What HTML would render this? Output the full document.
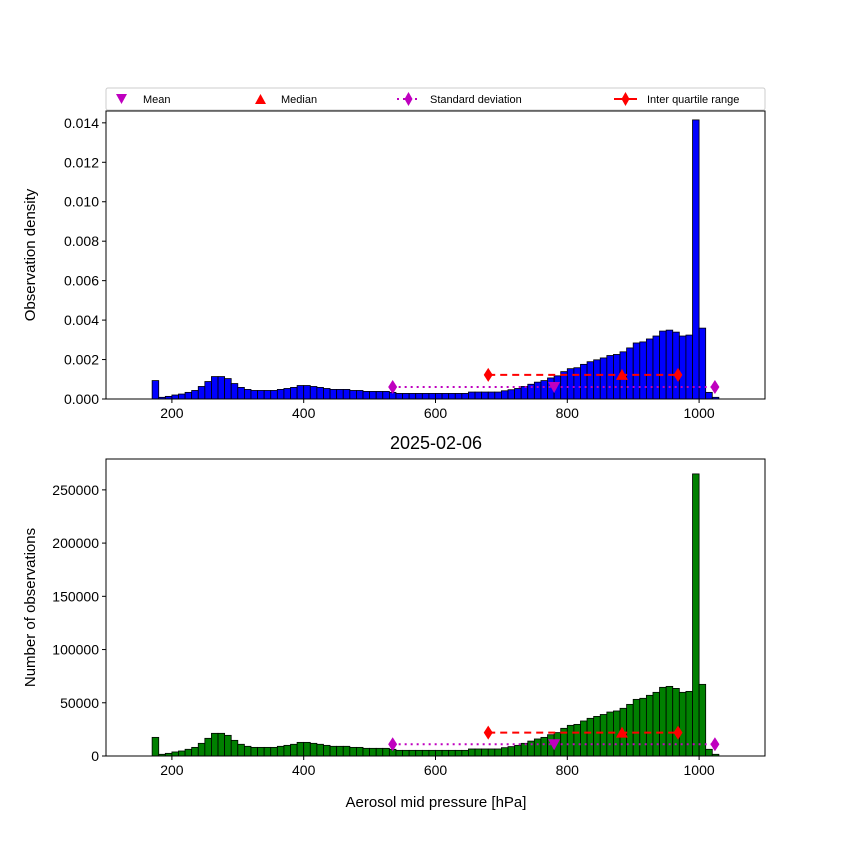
<!DOCTYPE html>
<html><head><meta charset="utf-8"><style>
body{margin:0;background:#fff;}
svg{display:block;font-family:"Liberation Sans","DejaVu Sans",sans-serif;}
</style></head><body>
<svg id="c" width="850" height="850" xmlns="http://www.w3.org/2000/svg"></svg>
<script>
const binStarts = [];
for (let b = 170; b <= 1020; b += 10) binStarts.push(b);
const counts = [17.5,1.6,2.5,3.8,4.7,6.3,8.1,11.9,16.6,21.3,21.3,19.4,14.7,11,9.1,8.1,8.1,8.1,8.1,9.1,10,11,12.8,12.8,11.9,11,10,9.1,9.1,9.1,8.1,8.1,7.2,7.2,7.2,7.2,6.3,5.3,5.3,5.3,5.3,5.3,5.3,
5.3,5.3,5.3,5.3,5.3,6.6,6.6,6.6,6.6,
6.6,7.8,8.8,10,11.9,14,16,17.5,20,22,26,28.8,29.7,32.9,35.4,37.2,39,41.3,42.3,44.8,48.5,53.2,54.2,57,59.8,64.5,65.4,63.5,59.8,60.7,265,67.3,6.3,1.6].map(v=>v*1000);
const statMean = 780, statMedian = 883, statStd = [535, 1024], statIqr = [680, 968];
const xTicks = [200,400,600,800,1000];
const topTicks = [0,0.002,0.004,0.006,0.008,0.010,0.012,0.014];
const botTicks = [0,50000,100000,150000,200000,250000];

const NS="http://www.w3.org/2000/svg";
const svg=document.getElementById('c');
function el(t,a,p){const e=document.createElementNS(NS,t);for(const k in a)e.setAttribute(k,a[k]);(p||svg).appendChild(e);return e;}
const total=counts.reduce((a,b)=>a+b,0);
const dens=counts.map(c=>c/(total*10));
const X0=106,X1=765;
const xs=v=>X0+(v-100)/1000*(X1-X0);

function panel(name,top,bot,vals,ymax,ticks,fmt,color,ylabel){
  const g=el('g',{});
  
  
  const ys=v=>bot-v/ymax*(bot-top);
  vals.forEach((v,i)=>{
    const r=el('rect',{x:xs(binStarts[i]),y:ys(v),width:xs(binStarts[i]+10)-xs(binStarts[i]),height:bot-ys(v),fill:color,stroke:'#000','stroke-width':0.8},g);
    
    
  });
  const hi=ymax*(ymax>1?22000/279000:0.00122/0.0146), lo=hi/2;
  // std dotted
  const sl=el('line',{x1:xs(statStd[0]),x2:xs(statStd[1]),y1:ys(lo),y2:ys(lo),stroke:'#bf00bf','stroke-width':2,'stroke-dasharray':'2,4'},g);
  
  const il=el('line',{x1:xs(statIqr[0]),x2:xs(statIqr[1]),y1:ys(hi),y2:ys(hi),stroke:'#f00','stroke-width':2,'stroke-dasharray':'7,5'},g);
  
  const dia=(x,y,c,n)=>{const d=el('path',{d:`M${x} ${y-7}L${x+4.5} ${y}L${x} ${y+7}L${x-4.5} ${y}Z`,fill:c},g);};
  statStd.forEach((s,i)=>dia(xs(s),ys(lo),'#bf00bf','std-marker-'+i));
  statIqr.forEach((s,i)=>dia(xs(s),ys(hi),'#f00','iqr-marker-'+i));
  let mx=xs(statMean),my=ys(lo);
  const m=el('path',{d:`M${mx-6} ${my-5}L${mx+6} ${my-5}L${mx} ${my+6}Z`,fill:'#bf00bf'},g);
  
  mx=xs(statMedian);my=ys(hi);
  const md=el('path',{d:`M${mx-6} ${my+5}L${mx+6} ${my+5}L${mx} ${my-6}Z`,fill:'#f00'},g);
  
  const fr=el('rect',{x:X0,y:top,width:X1-X0,height:bot-top,fill:'none',stroke:'#000','stroke-width':1},g);
  
  xTicks.forEach(t=>{
    el('line',{x1:xs(t),x2:xs(t),y1:bot,y2:bot+4,stroke:'#000'},g);
    const tx=el('text',{x:xs(t),y:bot+19,'font-size':14,'text-anchor':'middle'},g);tx.textContent=t;
    
  });
  ticks.forEach(t=>{
    el('line',{x1:X0-4,x2:X0,y1:ys(t),y2:ys(t),stroke:'#000'},g);
    const tx=el('text',{x:X0-7,y:ys(t)+5,'font-size':14,'text-anchor':'end'},g);tx.textContent=fmt(t);
    
  });
  const yl=el('text',{x:0,y:0,'font-size':15,'text-anchor':'middle',transform:`translate(35,${(top+bot)/2}) rotate(-90)`},g);
  yl.textContent=ylabel;
}
panel('density-panel',111,399,dens,0.0146,topTicks,t=>t.toFixed(3),'#0000ff','Observation density');
panel('count-panel',459,756,counts,279000,botTicks,t=>String(t),'#008000','Number of observations');
</script>
<svg x="0" y="0" width="0" height="0"></svg>
<script>
(function(){
const NS="http://www.w3.org/2000/svg",svg=document.getElementById('c');
function el(t,a,p){const e=document.createElementNS(NS,t);for(const k in a)e.setAttribute(k,a[k]);(p||svg).appendChild(e);return e;}
const t=el('text',{x:436,y:449,'font-size':18,'text-anchor':'middle'});t.textContent='2025-02-06';


const xl=el('text',{x:436,y:807,'font-size':15,'text-anchor':'middle'});xl.textContent='Aerosol mid pressure [hPa]';


const lg=el('g',{});


el('rect',{x:106,y:88,width:659,height:22,fill:'#fff',stroke:'#ccc',rx:2},lg);
el('path',{d:'M116 94L127 94L121.5 104Z',fill:'#bf00bf'},lg);
el('path',{d:'M255 104L266 104L260.5 94Z',fill:'#f00'},lg);
el('line',{x1:397,x2:420,y1:99,y2:99,stroke:'#bf00bf','stroke-width':2,'stroke-dasharray':'2,4'},lg);
el('path',{d:'M408.5 92L412.5 99L408.5 106L404.5 99Z',fill:'#bf00bf'},lg);
el('line',{x1:614,x2:637,y1:99,y2:99,stroke:'#f00','stroke-width':2},lg);
el('path',{d:'M625.5 92L629.5 99L625.5 106L621.5 99Z',fill:'#f00'},lg);
[['Mean',143],['Median',281],['Standard deviation',430],['Inter quartile range',647]].forEach(([s,x])=>{
  const e=el('text',{x:x,y:103,'font-size':11},lg);e.textContent=s;
  
  
});
})();
</script>
</body></html>
